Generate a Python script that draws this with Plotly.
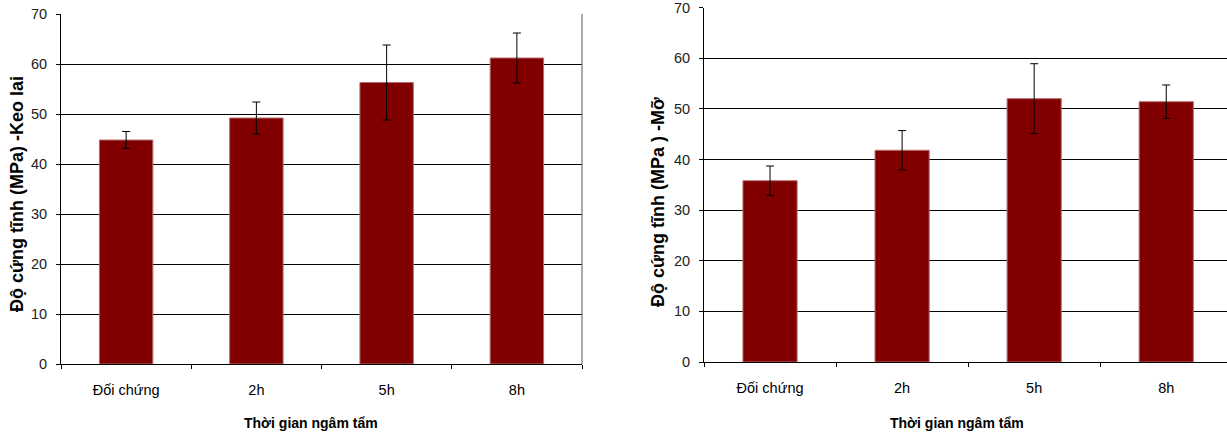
import plotly.graph_objects as go

categories = ["Đối chứng", "2h", "5h", "8h"]
keo_lai = [44.8, 49.2, 56.3, 61.2]
keo_lai_err = [1.7, 3.2, 7.5, 5.0]
mo = [35.8, 41.8, 52.0, 51.4]
mo_err = [2.9, 3.9, 6.9, 3.3]
y_ticks = [0, 10, 20, 30, 40, 50, 60, 70]

W, H = 1227, 437
BAR = "#800000"
FONT = "Liberation Sans, Arial, sans-serif"

fig = go.Figure()
fig.add_trace(go.Bar(
    x=categories, y=keo_lai, width=0.41,
    marker=dict(color=BAR, line=dict(color="#b86a6a", width=1)),
    error_y=dict(type="data", array=keo_lai_err, visible=True,
                 color="black", thickness=1, width=4),
    xaxis="x", yaxis="y", showlegend=False, hoverinfo="skip"))
fig.add_trace(go.Bar(
    x=categories, y=mo, width=0.41,
    marker=dict(color=BAR, line=dict(color="#b86a6a", width=1)),
    error_y=dict(type="data", array=mo_err, visible=True,
                 color="black", thickness=1, width=4),
    xaxis="x2", yaxis="y2", showlegend=False, hoverinfo="skip"))

def px_x(p):
    return p / W

def px_y(p):
    return 1 - p / H

xcommon = dict(type="category", tickson="boundaries", ticks="outside", ticklen=4,
               tickcolor="black", showline=True, linecolor="black", linewidth=1,
               showgrid=False, tickfont=dict(family=FONT, size=14.5, color="black"),
               ticklabelstandoff=13, zeroline=False)
ycommon = dict(range=[0, 70], tickvals=y_ticks, ticks="outside", ticklen=4,
               tickcolor="black", showline=True, linecolor="black", linewidth=1,
               showgrid=True, gridcolor="black", gridwidth=1, zeroline=False,
               tickfont=dict(family=FONT, size=14.5, color="#222"),
               ticklabelstandoff=6, ticklabeloverflow="allow")

ann_font_y = dict(family=FONT, size=18, color="black")
ann_font_x = dict(family=FONT, size=14, color="black")

fig.update_layout(
    width=W, height=H,
    margin=dict(l=0, r=0, t=0, b=0, autoexpand=False),
    paper_bgcolor="white", plot_bgcolor="white",
    xaxis=dict(**xcommon, domain=[px_x(61), px_x(582)], anchor="y", range=[-0.5, 3.5]),
    yaxis=dict(**ycommon, domain=[px_y(364), px_y(14)], anchor="x"),
    xaxis2=dict(**xcommon, domain=[px_x(704), 1.0], anchor="y2", range=[-0.5, 3.46]),
    yaxis2=dict(**ycommon, domain=[px_y(362), px_y(7.5)], anchor="x2"),
    shapes=[
        dict(type="line", xref="x domain", yref="y domain", x0=1, x1=1, y0=0, y1=1,
             line=dict(color="#555", width=1)),
    ],
    annotations=[
        dict(text="<b>Độ cứng tĩnh (MPa) -Keo lai</b>", textangle=-90,
             xref="paper", yref="paper", x=px_x(17), y=px_y(194),
             xanchor="center", yanchor="middle",
             showarrow=False, font=ann_font_y),
        dict(text="<b>Độ cứng tĩnh (MPa ) -Mỡ</b>", textangle=-90,
             xref="paper", yref="paper", x=px_x(658), y=px_y(202),
             xanchor="center", yanchor="middle",
             showarrow=False, font=ann_font_y),
        dict(text="<b>Thời gian ngâm tẩm</b>",
             xref="paper", yref="paper", x=px_x(311), y=px_y(423),
             xanchor="center", yanchor="middle",
             showarrow=False, font=ann_font_x),
        dict(text="<b>Thời gian ngâm tẩm</b>",
             xref="paper", yref="paper", x=px_x(957), y=px_y(423),
             xanchor="center", yanchor="middle",
             showarrow=False, font=ann_font_x),
    ],
)

fig.write_html("out.html", config={"displayModeBar": False, "staticPlot": True},
               post_script="document.body.style.margin='0';document.body.style.overflow='hidden';")
